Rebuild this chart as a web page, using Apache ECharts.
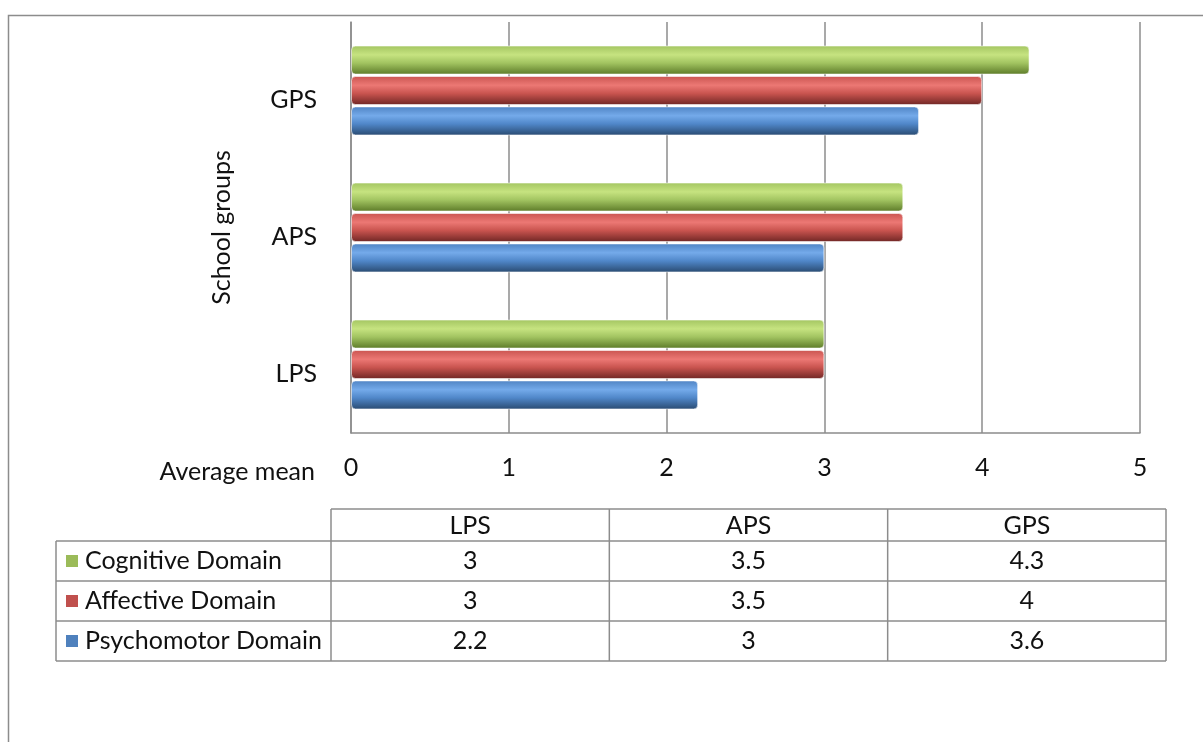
<!DOCTYPE html>
<html>
<head>
<meta charset="utf-8">
<title>Average mean by school group</title>
<script src="https://cdn.jsdelivr.net/npm/echarts@6/dist/echarts.min.js"></script>
<style>
  html, body { margin: 0; padding: 0; background: #ffffff; }
  #chart { width: 1203px; height: 742px; }
</style>
</head>
<body>
<div id="chart"></div>
<script>
// School groups (bottom to top on the category axis)
const categories = ['LPS', 'APS', 'GPS'];

// Average mean per domain, in the order of the categories above
const cognitive = [3, 3.5, 4.3];
const affective = [3, 3.5, 4];
const psychomotor = [2.2, 3, 3.6];

const domainNames = ['Cognitive Domain', 'Affective Domain', 'Psychomotor Domain'];
const domainValues = [cognitive, affective, psychomotor];
const domainColors = ['#9BBB59', '#C0504D', '#4F81BD'];

// Cylinder-like shading for each bar colour
const shades = {
  '#9BBB59': ['#a3c561', '#c6e380', '#a2c461', '#5c7a28'],
  '#C0504D': ['#c95450', '#ec7874', '#c9544f', '#6f2624'],
  '#4F81BD': ['#4f83c3', '#74aaea', '#5087c9', '#294a70']
};

const FONT = 'Lato, "DejaVu Sans", sans-serif';
const SIZE = 25;
const TEXT = '#111111';
const LINE = '#8c8c8c';

function cylinder(color) {
  const s = shades[color];
  return new echarts.graphic.LinearGradient(0, 0, 0, 1, [
    { offset: 0, color: s[0] },
    { offset: 0.32, color: s[1] },
    { offset: 0.6, color: s[2] },
    { offset: 1, color: s[3] }
  ]);
}

function barSeries(idx) {
  return {
    name: domainNames[idx],
    type: 'bar',
    data: domainValues[idx],
    barWidth: 29,
    barGap: '5%',
    itemStyle: {
      color: cylinder(domainColors[idx]),
      borderColor: 'rgba(255,255,255,0.55)',
      borderWidth: 1,
      borderRadius: 4
    },
    emphasis: { disabled: true }
  };
}

// Data table below the plot
const table = { left: 56, split: 331, right: 1166, headTop: 509, headH: 32, rowH: 40 };

function buildTable() {
  const els = [];
  const colW = (table.right - table.split) / categories.length;
  const bodyTop = table.headTop + table.headH;
  const bodyBottom = bodyTop + table.rowH * domainNames.length;
  const line = (x1, y1, x2, y2) => ({
    type: 'line',
    shape: { x1, y1, x2, y2 },
    style: { stroke: LINE, lineWidth: 1.5 },
    silent: true
  });
  // header row frame
  els.push(line(table.split, table.headTop, table.right, table.headTop));
  // body row lines
  for (let r = 0; r <= domainNames.length; r++) {
    const y = bodyTop + r * table.rowH;
    els.push(line(table.left, y, table.right, y));
  }
  // verticals
  els.push(line(table.left, bodyTop, table.left, bodyBottom));
  for (let c = 0; c <= categories.length; c++) {
    const x = table.split + c * colW;
    els.push(line(x, table.headTop, x, bodyBottom));
  }
  // header labels
  categories.forEach((cat, c) => {
    els.push({
      type: 'text',
      silent: true,
      style: {
        text: cat, x: table.split + (c + 0.5) * colW, y: table.headTop + table.headH / 2 + 1,
        textAlign: 'center', textVerticalAlign: 'middle', align: 'center', verticalAlign: 'middle',
        font: SIZE + 'px ' + FONT, fill: TEXT
      }
    });
  });
  // body rows: legend key, domain name, values
  domainNames.forEach((name, r) => {
    const cy = bodyTop + r * table.rowH + table.rowH / 2;
    els.push({
      type: 'rect', silent: true,
      shape: { x: 66, y: cy - 6, width: 12, height: 12 },
      style: { fill: domainColors[r] }
    });
    els.push({
      type: 'text', silent: true,
      style: {
        text: name, x: 85, y: cy,
        textAlign: 'left', textVerticalAlign: 'middle', align: 'left', verticalAlign: 'middle',
        font: SIZE + 'px ' + FONT, fill: TEXT
      }
    });
    domainValues[r].forEach((v, c) => {
      els.push({
        type: 'text', silent: true,
        style: {
          text: String(v), x: table.split + (c + 0.5) * colW, y: cy,
          textAlign: 'center', textVerticalAlign: 'middle', align: 'center', verticalAlign: 'middle',
          font: SIZE + 'px ' + FONT, fill: TEXT
        }
      });
    });
  });
  return els;
}

const chart = echarts.init(document.getElementById('chart'), null, { renderer: 'canvas' });

chart.setOption({
  backgroundColor: '#ffffff',
  animation: false,
  grid: { left: 351, right: 63, top: 22, bottom: 309, containLabel: false },
  xAxis: {
    type: 'value',
    min: 0,
    max: 5,
    interval: 1,
    axisLine: { show: true, lineStyle: { color: LINE, width: 1.5 } },
    axisTick: { show: false },
    splitLine: { show: true, lineStyle: { color: LINE, width: 1.5 } },
    axisLabel: { margin: 22, fontFamily: FONT, fontSize: SIZE, color: TEXT }
  },
  yAxis: {
    type: 'category',
    data: categories,
    name: 'School groups',
    nameLocation: 'middle',
    nameRotate: 90,
    nameGap: 117,
    nameTextStyle: { fontFamily: FONT, fontSize: SIZE, color: TEXT },
    axisLine: { show: true, lineStyle: { color: LINE, width: 1.5 } },
    axisTick: { show: false },
    splitLine: { show: false },
    axisLabel: {
      margin: 34,
      fontFamily: FONT,
      fontSize: SIZE,
      color: TEXT,
      verticalAlign: 'top',
      lineHeight: 18
    }
  },
  series: [barSeries(0), barSeries(1), barSeries(2)],
  graphic: [
    {
      type: 'rect', silent: true, z: -1,
      shape: { x: 8.5, y: 15.5, width: 1400, height: 900 },
      style: { fill: 'none', stroke: LINE, lineWidth: 1.5 }
    },
    {
      type: 'text', silent: true,
      style: {
        text: 'Average mean', x: 315, y: 472,
        textAlign: 'right', textVerticalAlign: 'middle', align: 'right', verticalAlign: 'middle',
        font: SIZE + 'px ' + FONT, fill: TEXT
      }
    }
  ].concat(buildTable())
});
</script>
</body>
</html>
